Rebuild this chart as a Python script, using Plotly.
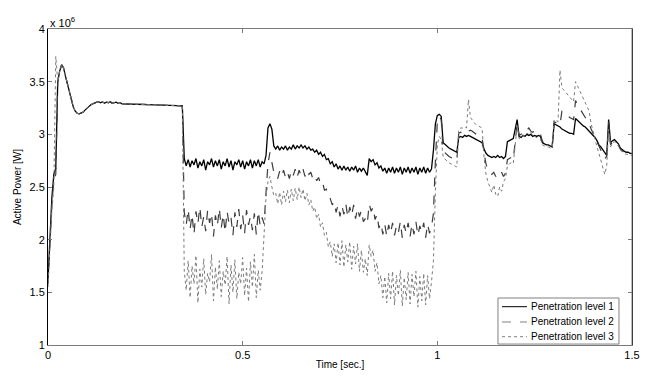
import numpy as np
import plotly.graph_objects as go

# ---------------- data (values in units of 1e6 W) ----------------
time_step = 0.005
n_points = 301
time_s = np.round(np.arange(n_points) * time_step, 3)

series_names = ["Penetration level 1", "Penetration level 2", "Penetration level 3"]

start_1 = [1.62, 2.05, 2.40, 2.62, 2.68]
start_2 = [1.58, 1.98, 2.34, 2.57, 2.62]
start_3 = [1.55, 1.92, 2.28, 2.50, 3.74]

# t = 0.025 .. 0.345 (shared by all three levels)
head_common = [
    3.50, 3.60, 3.66, 3.63, 3.55,
    3.47, 3.39, 3.32, 3.26, 3.22, 3.20, 3.195, 3.20, 3.21, 3.23,
    3.25, 3.265, 3.28, 3.29, 3.30, 3.305, 3.31, 3.30, 3.31, 3.295,
    3.305, 3.30, 3.31, 3.295, 3.30, 3.305, 3.295, 3.30, 3.29, 3.29,
    3.29, 3.29, 3.289, 3.288, 3.288, 3.287, 3.286, 3.285, 3.285, 3.284,
    3.283, 3.282, 3.282, 3.281, 3.28, 3.28, 3.279, 3.278, 3.278, 3.277,
    3.276, 3.275, 3.275, 3.274, 3.273, 3.272, 3.272, 3.271, 3.27, 3.27,
]

# t = 0.350 .. 0.580
seg_b_1 = [
    2.77, 2.70, 2.76, 2.69, 2.75, 2.71, 2.77, 2.68, 2.74, 2.70,
    2.76, 2.66, 2.74, 2.71, 2.77, 2.69, 2.75, 2.70, 2.76, 2.67,
    2.74, 2.70, 2.77, 2.69, 2.75, 2.66, 2.74, 2.71, 2.76, 2.69,
    2.75, 2.67, 2.74, 2.70, 2.76, 2.68, 2.75, 2.70, 2.76, 2.69,
    2.74, 2.72, 2.80, 3.06, 3.10, 3.05, 2.89,
]
seg_b_2 = [
    2.26, 2.14, 2.29, 2.10, 2.24, 2.05, 2.27, 2.15, 2.31, 2.12,
    2.22, 2.08, 2.28, 2.16, 2.25, 2.03, 2.23, 2.13, 2.30, 2.11,
    2.24, 2.07, 2.27, 2.15, 2.21, 2.04, 2.26, 2.12, 2.29, 2.10,
    2.23, 2.06, 2.28, 2.14, 2.22, 2.09, 2.25, 2.05, 2.27, 2.13,
    2.21, 2.15, 2.45, 2.72, 2.83, 2.75, 2.64,
]
seg_b_3 = [
    1.70, 1.52, 1.80, 1.45, 1.75, 1.58, 1.85, 1.40, 1.72, 1.55,
    1.82, 1.48, 1.68, 1.60, 1.86, 1.42, 1.74, 1.53, 1.80, 1.46,
    1.70, 1.57, 1.84, 1.39, 1.76, 1.50, 1.81, 1.44, 1.69, 1.58,
    1.83, 1.47, 1.73, 1.41, 1.79, 1.55, 1.86, 1.45, 1.71, 1.52,
    1.70, 2.05, 2.40, 2.55, 2.60, 2.50, 2.42,
]

# t = 0.585 .. 0.985
seg_c_1 = [
    2.86, 2.89, 2.85, 2.88, 2.86, 2.89, 2.85, 2.88, 2.86, 2.90,
    2.86, 2.89, 2.87, 2.90, 2.87, 2.89, 2.86, 2.88, 2.85, 2.86,
    2.83, 2.85, 2.81, 2.83, 2.79, 2.81, 2.76, 2.77, 2.72, 2.74,
    2.69, 2.72, 2.67, 2.70, 2.66, 2.70, 2.66, 2.69, 2.65, 2.69,
    2.66, 2.70, 2.64, 2.68, 2.65, 2.68, 2.64, 2.61, 2.77, 2.74,
    2.76, 2.71, 2.73, 2.68, 2.70, 2.65, 2.68, 2.63, 2.68, 2.64,
    2.69, 2.63, 2.68, 2.64, 2.69, 2.62, 2.68, 2.64, 2.69, 2.63,
    2.68, 2.64, 2.69, 2.62, 2.68, 2.64, 2.69, 2.63, 2.68, 2.64,
    2.67,
]
seg_c_2 = [
    2.64, 2.58, 2.65, 2.60, 2.66, 2.59, 2.64, 2.58, 2.66, 2.61,
    2.67, 2.59, 2.66, 2.61, 2.67, 2.60, 2.66, 2.62, 2.64, 2.58,
    2.61, 2.56, 2.59, 2.53, 2.55, 2.47, 2.48, 2.40, 2.39, 2.33,
    2.36, 2.26, 2.33, 2.22, 2.32, 2.24, 2.34, 2.21, 2.31, 2.23,
    2.33, 2.20, 2.30, 2.22, 2.28, 2.17, 2.20, 2.15, 2.34, 2.27,
    2.31, 2.19, 2.24, 2.11, 2.16, 2.05, 2.15, 2.03, 2.14, 2.06,
    2.16, 2.04, 2.13, 2.07, 2.17, 2.02, 2.14, 2.06, 2.16, 2.03,
    2.15, 2.05, 2.17, 2.04, 2.13, 2.07, 2.16, 2.02, 2.15, 2.06,
    2.12,
]
seg_c_3 = [
    2.44, 2.34, 2.45, 2.33, 2.46, 2.36, 2.47, 2.35, 2.48, 2.37,
    2.49, 2.38, 2.50, 2.40, 2.48, 2.37, 2.44, 2.33, 2.38, 2.27,
    2.31, 2.20, 2.24, 2.12, 2.16, 2.04, 2.07, 1.93, 1.98, 1.84,
    1.96, 1.78, 1.97, 1.76, 1.99, 1.74, 1.95, 1.79, 1.98, 1.72,
    1.94, 1.77, 1.96, 1.70, 1.90, 1.69, 1.82, 1.66, 1.95, 1.84,
    1.90, 1.70, 1.78, 1.58, 1.66, 1.45, 1.65, 1.40, 1.68, 1.44,
    1.70, 1.38, 1.66, 1.47, 1.71, 1.37, 1.64, 1.43, 1.69, 1.39,
    1.67, 1.46, 1.70, 1.36, 1.65, 1.42, 1.68, 1.38, 1.66, 1.44,
    1.60,
]

# t = 0.990 .. 1.010
rise_1 = [2.85, 3.10, 3.18, 3.19, 3.17]
rise_2 = [2.25, 2.75, 3.12, 3.17, 3.14]
rise_3 = [1.80, 2.45, 2.90, 2.98, 2.95]

# t = 1.015 .. 1.500
seg_d_1 = [
    2.92, 2.90, 2.88, 2.87, 2.86, 2.85, 2.84, 2.83, 2.97, 2.98,
    2.97, 2.99, 2.98, 2.99, 2.98, 2.97, 2.96, 2.95, 2.94, 2.93,
    2.92, 2.86, 2.82, 2.80, 2.79, 2.78, 2.79, 2.78, 2.80, 2.78,
    2.79, 2.77, 2.79, 2.93, 2.94, 2.95, 2.96, 3.05, 3.14, 2.98,
    2.97, 2.99, 2.98, 3.00, 2.99, 3.00, 2.98, 2.99, 2.98, 2.99,
    2.98, 2.92, 2.91, 2.90, 2.90, 2.89, 2.88, 3.10, 3.09, 3.08,
    3.07, 3.05, 3.04, 3.03, 3.02, 3.01, 3.01, 3.00, 3.15, 3.13,
    3.11, 3.10, 3.08, 3.07, 3.05, 3.03, 3.02, 3.00, 2.97, 2.94,
    2.90, 2.88, 2.85, 2.82, 2.80, 3.14, 2.92, 2.94, 2.95, 2.93,
    2.91, 2.87, 2.85, 2.84, 2.83, 2.83, 2.82, 2.82,
]
seg_d_2 = [
    2.84, 2.82, 2.80, 2.79, 2.78, 2.77, 2.76, 2.75, 3.01, 3.02,
    3.01, 3.03, 3.02, 3.03, 3.04, 3.03, 3.01, 3.00, 2.99, 2.98,
    2.97, 2.82, 2.72, 2.66, 2.64, 2.62, 2.64, 2.60, 2.63, 2.61,
    2.64, 2.60, 2.63, 2.76, 2.77, 2.78, 2.76, 2.95, 3.10, 2.99,
    3.00, 3.02, 3.01, 3.04, 3.06, 3.03, 3.02, 3.03, 3.01, 3.02,
    3.00, 2.93, 2.92, 2.91, 2.90, 2.89, 2.89, 3.12, 3.11, 3.10,
    3.09, 3.22, 3.21, 3.19, 3.18, 3.16, 3.15, 3.14, 3.32, 3.28,
    3.25, 3.22, 3.19, 3.16, 3.13, 3.10, 3.05, 3.01, 2.96, 2.92,
    2.88, 2.84, 2.80, 2.77, 2.79, 3.12, 2.90, 2.93, 2.94, 2.92,
    2.90, 2.86, 2.84, 2.83, 2.82, 2.82, 2.81, 2.81,
]
seg_d_3 = [
    2.78, 2.76, 2.74, 2.73, 2.72, 2.71, 2.70, 2.69, 3.05, 3.06,
    3.06, 3.07, 3.06, 3.33, 3.16, 3.13, 3.11, 3.09, 3.08, 3.07,
    3.06, 2.78, 2.62, 2.55, 2.50, 2.45, 2.52, 2.43, 2.41, 2.50,
    2.46, 2.55, 2.58, 2.70, 2.72, 2.73, 2.72, 2.90, 3.08, 2.96,
    2.97, 2.99, 2.98, 3.01, 3.00, 3.02, 2.99, 2.98, 2.97, 2.96,
    2.95, 2.90, 2.89, 2.88, 2.88, 2.87, 2.87, 3.14, 3.13, 3.12,
    3.61, 3.44, 3.42, 3.40, 3.37, 3.35, 3.33, 3.31, 3.50, 3.46,
    3.42, 3.38, 3.34, 3.30, 3.26, 3.22, 3.10, 3.02, 2.95, 2.88,
    2.82, 2.75, 2.68, 2.62, 2.70, 3.05, 2.88, 2.92, 2.93, 2.91,
    2.89, 2.85, 2.83, 2.82, 2.81, 2.81, 2.80, 2.80,
]

level_1 = start_1 + head_common + seg_b_1 + seg_c_1 + rise_1 + seg_d_1
level_2 = start_2 + head_common + seg_b_2 + seg_c_2 + rise_2 + seg_d_2
level_3 = start_3 + head_common + seg_b_3 + seg_c_3 + rise_3 + seg_d_3

x_ticks = [0, 0.5, 1, 1.5]
y_ticks = [1, 1.5, 2, 2.5, 3, 3.5, 4]

# ---------------- figure ----------------
FONT = "Liberation Sans, Arial, sans-serif"
styles = [
    dict(color="#000000", width=1.3, dash="solid"),
    dict(color="#3c3c3c", width=1.2, dash="dash"),
    dict(color="#7a7a7a", width=1, dash="dot"),
]

fig = go.Figure()
for name, vals, st in zip(series_names, [level_1, level_2, level_3], styles):
    fig.add_trace(go.Scatter(x=time_s, y=vals, mode="lines", name=name, line=st,
                             showlegend=False))

# legend drawn as a boxed key in the lower right corner (paper coordinates)
legend_box = dict(x0=0.7705, x1=0.9777, y0=0.003, y1=0.1487)
legend_rows_y = [0.1212, 0.0728, 0.0263]
legend_line_x = (0.7774, 0.8202)
legend_text_x = 0.8236
legend_line_styles = [
    dict(color="#000000", width=1, dash="solid"),
    dict(color="#808080", width=1, dash="dash"),
    dict(color="#808080", width=1, dash="dot"),
]

shapes = [
    dict(type="line", xref="paper", yref="paper", x0=1, x1=1, y0=0, y1=1,
         line=dict(color="#7a7a7a", width=1)),
    dict(type="rect", xref="paper", yref="paper", **legend_box,
         line=dict(color="#808080", width=1), fillcolor="white", layer="above"),
]
annotations = [
    dict(xref="paper", yref="paper", x=0, y=1, xanchor="left", yanchor="bottom",
         text="x 10<sup>6</sup>", showarrow=False, yshift=-2,
         font=dict(family=FONT, size=11, color="#000")),
]
for name, ry, ls in zip(series_names, legend_rows_y, legend_line_styles):
    shapes.append(dict(type="line", xref="paper", yref="paper",
                       x0=legend_line_x[0], x1=legend_line_x[1], y0=ry, y1=ry,
                       line=ls, layer="above"))
    annotations.append(dict(xref="paper", yref="paper", x=legend_text_x, y=ry,
                            xanchor="left", yanchor="middle", text=name, showarrow=False,
                            font=dict(family=FONT, size=10, color="#000")))

# the page body has an 8 px default margin, so the figure is 8 px smaller
fig.update_layout(
    width=648, height=372,
    margin=dict(l=40, r=24, t=21, b=35),
    paper_bgcolor="white", plot_bgcolor="white",
    font=dict(family=FONT, size=11, color="#000"),
    showlegend=False,
    xaxis=dict(
        range=[0, 1.5], tickvals=x_ticks, ticktext=[str(v) for v in x_ticks],
        showgrid=False, zeroline=False, showline=True, linecolor="#7a7a7a", linewidth=1,
        mirror="allticks", ticks="inside", ticklen=4, tickcolor="#7a7a7a",
        automargin=False,
        title=dict(text="Time [sec.]", font=dict(size=10), standoff=0),
    ),
    yaxis=dict(
        range=[1, 4], tickvals=y_ticks, ticktext=["1", "1.5", "2", "2.5", "3", "3.5", "4"],
        showgrid=False, zeroline=False, showline=True, linecolor="#000", linewidth=1,
        mirror="allticks", ticks="inside", ticklen=4, tickcolor="#7a7a7a",
        automargin=False,
        title=dict(text="Active Power [W]", font=dict(size=10), standoff=6),
    ),
    annotations=annotations,
    shapes=shapes,
)

fig.write_html("out.html")
